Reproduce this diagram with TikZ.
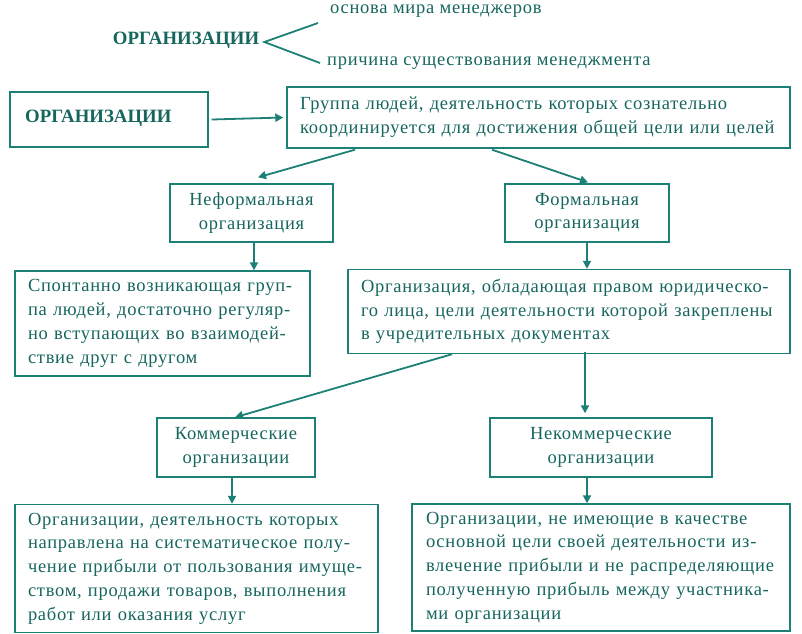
\documentclass[tikz,border=0pt]{standalone}
\usepackage{fontspec}
\setmainfont{Liberation Serif}
\usetikzlibrary{arrows.meta}
\definecolor{tline}{RGB}{28,128,118}
\definecolor{ttext}{RGB}{22,102,94}
\tikzset{
  box/.style={draw=tline, line width=1.4pt, inner sep=0pt, text=ttext},
  lbox/.style={box, align=left},
  cbox/.style={box, align=center},
  arr/.style={draw=tline, line width=1.8pt, -{Triangle[length=8pt,width=8pt]}},
  ln/.style={draw=tline, line width=1.8pt},
  txt/.style={text=ttext, inner sep=0pt},
}
\hfuzz=200pt
\newcommand{\fs}{\fontsize{18.5}{23.8}\selectfont\addfontfeature{LetterSpace=4}}
\newcommand{\fb}{\fontsize{18.8}{22}\selectfont\bfseries}
\newcommand{\myline}[1]{\mbox{#1}}
\begin{document}
\begin{tikzpicture}[x=1pt,y=-1pt]
\useasboundingbox (0,0) rectangle (802,633);
% top
\node[txt, font=\fb] (t1) at (186,40) {ОРГАНИЗАЦИИ};
\node[txt, anchor=west, font=\fs] (o1) at (330,11) {основа мира менеджеров};
\node[txt, anchor=west, font=\fs] (o2) at (327,63) {причина существования менеджмента};
\coordinate (v) at ([xshift=5pt,yshift=-2pt]t1.east);
\draw[ln] ([xshift=-12pt,yshift=-12pt]o1.west) -- (v) -- ([xshift=-7pt]o2.west);
% boxes
\node[box, minimum width=198pt, minimum height=55pt] (org) at (109,119.5) {};
\node[txt, anchor=west, font=\fb] (orgt) at (25,118) {ОРГАНИЗАЦИИ};
\node[lbox, minimum width=503pt, minimum height=61pt, text width=477pt, font=\fs] (grp) at (538.5,117.5)
  {\myline{Группа людей, деятельность которых сознательно}\\\myline{координируется для достижения общей цели или целей}};
\node[cbox, minimum width=163pt, minimum height=58pt, font=\fs] (nef) at (251.5,213) {Неформальная\\организация};
\node[cbox, minimum width=164pt, minimum height=58pt, font=\fs] (form) at (587,213) {Формальная\\организация};
\node[lbox, minimum width=295pt, minimum height=105pt, text width=269pt, font=\fs] (spon) at (162.5,323.5)
  {\myline{Спонтанно возникающая груп-}\\\myline{па людей, достаточно регуляр-}\\\myline{но вступающих во взаимодей-}\\\myline{ствие друг с другом}};
\node[lbox, minimum width=442pt, minimum height=84pt, text width=416pt, font=\fs] (orgf) at (569,311.5)
  {\myline{Организация, обладающая правом юридическо-}\\\myline{го лица, цели деятельности которой закреплены}\\\myline{в учредительных документах}};
\node[cbox, minimum width=158pt, minimum height=59pt, font=\fs] (kom) at (236,447.5) {Коммерческие\\организации};
\node[cbox, minimum width=222pt, minimum height=59pt, font=\fs] (nekom) at (601,447.5) {Некоммерческие\\организации};
\node[lbox, minimum width=363pt, minimum height=128pt, text width=337pt, font=\fs] (komd) at (196.5,568.5)
  {\myline{Организации, деятельность которых}\\\myline{направлена на систематическое полу-}\\\myline{чение прибыли от пользования имуще-}\\\myline{ством, продажи товаров, выполнения}\\\myline{работ или оказания услуг}};
\node[lbox, minimum width=378pt, minimum height=127pt, text width=350pt, font=\fs] (nekd) at (601,567.5)
  {\myline{Организации, не имеющие в качестве}\\\myline{основной цели своей деятельности из-}\\\myline{влечение прибыли и не распределяющие}\\\myline{полученную прибыль между участника-}\\\myline{ми организации}};
% arrows
\draw[arr] ([xshift=3pt]org.east) -- ([xshift=-3pt]grp.west);
\draw[arr] ([xshift=-183.5pt,yshift=-1pt]grp.south) -- ([xshift=6.5pt,yshift=6pt]nef.north);
\draw[arr] ([xshift=-46.5pt,yshift=-1pt]grp.south) -- ([xshift=1pt,yshift=1pt]form.north);
\draw[arr] ([xshift=2.5pt]nef.south) -- ([xshift=2.5pt]nef.south |- spon.north);
\draw[arr] (form.south) -- (form.south |- orgf.north);
\draw[arr] ([xshift=-117pt]orgf.south) -- ([xshift=-1pt]kom.north);
\draw[arr] ([xshift=-16pt,yshift=65pt]nekom.north) -- ([xshift=-16pt,yshift=4pt]nekom.north);
\draw[arr] ([xshift=-4pt]kom.south) -- ([xshift=-4pt]kom.south |- komd.north);
\draw[arr] ([xshift=-14pt]nekom.south) -- ([xshift=-14pt]nekom.south |- nekd.north);
\end{tikzpicture}
\end{document}
